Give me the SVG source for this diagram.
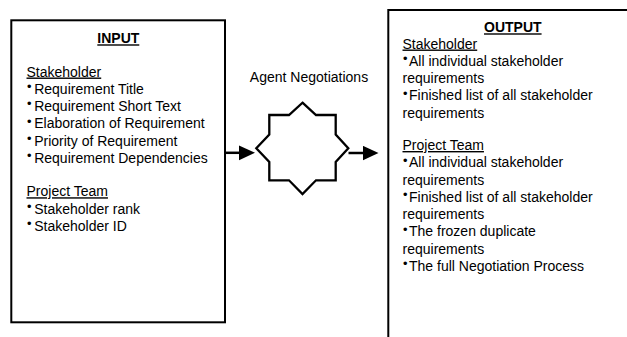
<svg xmlns="http://www.w3.org/2000/svg" width="627" height="337" viewBox="0 0 627 337">
<style>
text{font-family:"Liberation Sans",Arial,sans-serif;font-size:14px;fill:#000}
.h{font-weight:bold;text-decoration:underline;text-anchor:middle}
.u{text-decoration:underline}
.bu{font-size:12.8px}
.box{fill:#fff;stroke:#000;stroke-width:2}
.ln{fill:none;stroke:#000;stroke-width:2.5}
</style>
<defs>
<marker id="ah" markerUnits="userSpaceOnUse" markerWidth="17" markerHeight="16" refX="9" refY="7.4" orient="auto">
<path d="M0,0 L16,7.4 L0,14.8 z" fill="#000"/>
</marker>
</defs>
<rect width="627" height="337" fill="#fff"/>
<g id="input">
<rect class="box" x="11.3" y="20.3" width="213.7" height="302"/>
<text class="h" x="118.3" y="43.3">INPUT</text>
<text class="u" x="26.5" y="76.5">Stakeholder</text>
<text x="27.1" y="93.75"><tspan class="bu" dy="-2.6">•</tspan><tspan x="34.2" dy="2.6">Requirement Title</tspan></text>
<text x="27.1" y="111"><tspan class="bu" dy="-2.6">•</tspan><tspan x="34.2" dy="2.6">Requirement Short Text</tspan></text>
<text x="27.1" y="128.25"><tspan class="bu" dy="-2.6">•</tspan><tspan x="34.2" dy="2.6">Elaboration of Requirement</tspan></text>
<text x="27.1" y="145.5"><tspan class="bu" dy="-2.6">•</tspan><tspan x="34.2" dy="2.6">Priority of Requirement</tspan></text>
<text x="27.1" y="162.75"><tspan class="bu" dy="-2.6">•</tspan><tspan x="34.2" dy="2.6">Requirement Dependencies</tspan></text>
<text class="u" x="26.5" y="196.25">Project Team</text>
<text x="27.1" y="213.5"><tspan class="bu" dy="-2.6">•</tspan><tspan x="34.2" dy="2.6">Stakeholder rank</tspan></text>
<text x="27.1" y="230.75"><tspan class="bu" dy="-2.6">•</tspan><tspan x="34.2" dy="2.6">Stakeholder ID</tspan></text>
</g>
<g id="negotiation">
<text x="309" y="81.7" text-anchor="middle">Agent Negotiations</text>
<polygon fill="#fff" stroke="#000" stroke-width="2.3" stroke-linejoin="miter" points="302.5,102.7 316,115 335.7,115 335.7,134.5 348.3,148.3 335.7,162 335.7,180.3 316,180.3 302.5,194 289,180.3 269.3,180.3 269.3,162 256.3,148.3 269.3,134.5 269.3,115 289,115"/>
</g>
<g id="output">
<rect class="box" x="388.3" y="10" width="260" height="340"/>
<text class="h" x="512.8" y="32.3">OUTPUT</text>
<text class="u" x="402.5" y="48.5">Stakeholder</text>
<text x="403.1" y="65.75"><tspan class="bu" dy="-2.6">•</tspan><tspan x="409" dy="2.6">All individual stakeholder</tspan></text>
<text x="402.5" y="83">requirements</text>
<text x="403.1" y="100.25"><tspan class="bu" dy="-2.6">•</tspan><tspan x="409" dy="2.6">Finished list of all stakeholder</tspan></text>
<text x="402.5" y="117.5">requirements</text>
<text class="u" x="402.5" y="150">Project Team</text>
<text x="403.1" y="167.25"><tspan class="bu" dy="-2.6">•</tspan><tspan x="409" dy="2.6">All individual stakeholder</tspan></text>
<text x="402.5" y="184.5">requirements</text>
<text x="403.1" y="201.75"><tspan class="bu" dy="-2.6">•</tspan><tspan x="409" dy="2.6">Finished list of all stakeholder</tspan></text>
<text x="402.5" y="219">requirements</text>
<text x="403.1" y="236.25"><tspan class="bu" dy="-2.6">•</tspan><tspan x="409" dy="2.6">The frozen duplicate</tspan></text>
<text x="402.5" y="253.5">requirements</text>
<text x="403.1" y="270.75"><tspan class="bu" dy="-2.6">•</tspan><tspan x="409" dy="2.6">The full Negotiation Process</tspan></text>
</g>
<g id="connectors">
<path class="ln" d="M226,152.8 H248" marker-end="url(#ah)"/>
<path class="ln" d="M348.5,153 H371.5" marker-end="url(#ah)"/>
</g>
</svg>
